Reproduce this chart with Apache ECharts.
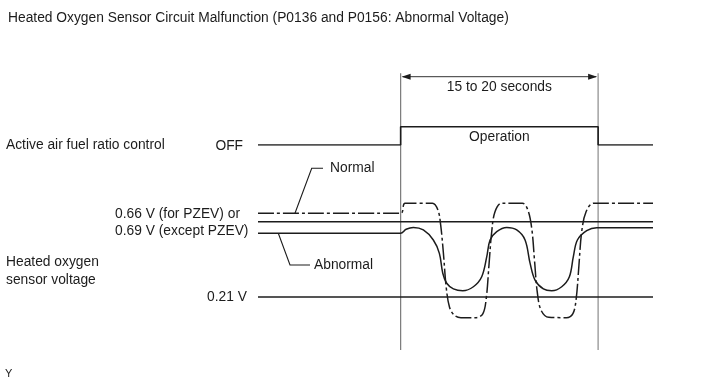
<!DOCTYPE html>
<html><head><meta charset="utf-8">
<script src="https://cdn.jsdelivr.net/npm/echarts@6/dist/echarts.min.js"></script>
<style>html,body{margin:0;padding:0;background:#fff}#c{width:713px;height:381px}</style>
</head><body><div id="c"></div>
<script>
// ---- data (time in seconds, voltage in volts; schematic) ----
const titleText = 'Heated Oxygen Sensor Circuit Malfunction (P0136 and P0156: Abnormal Voltage)';
const timeRange = [-13, 23];
const operationWindow = [0, 18];
const durationLabel = '15 to 20 seconds';
const controlSignal = [[-13, 0], [0, 0], [0, 1], [18, 1], [18, 0], [23, 0]];
const thresholdVolt = 0.66;
const lowVolt = 0.21;
const thresholdLine = [[-13, 0.66], [23, 0.66]];
const lowLine = [[-13, 0.21], [23, 0.21]];
const normalSignal = [
  [-13, 0.711], [0, 0.711], [0.4, 0.771], [2.9, 0.771], [3.4, 0.73], [3.65, 0.64], [3.9, 0.47], [4.15, 0.27],
  [4.45, 0.15], [4.9, 0.1], [5.5, 0.086], [6.9, 0.086], [7.5, 0.11], [7.8, 0.2], [8.05, 0.4], [8.3, 0.6],
  [8.6, 0.72], [9.2, 0.771], [11.1, 0.771], [11.6, 0.73], [11.95, 0.62], [12.2, 0.43], [12.45, 0.24],
  [12.8, 0.13], [13.5, 0.088], [15.1, 0.086], [15.7, 0.11], [16.0, 0.2], [16.25, 0.4], [16.5, 0.6],
  [16.9, 0.72], [17.6, 0.771], [23, 0.771]
];
const abnormalSignal = [
  [-13, 0.591], [0, 0.591], [0.5, 0.615], [1.16, 0.626], [2.07, 0.611], [2.98, 0.551], [3.53, 0.471],
  [3.84, 0.352], [4.2, 0.292], [4.81, 0.258], [5.66, 0.247], [6.63, 0.271], [7.39, 0.331], [7.85, 0.451],
  [8.15, 0.551], [8.76, 0.601], [9.67, 0.626], [10.58, 0.611], [11.34, 0.551], [11.8, 0.411],
  [12.25, 0.311], [13.01, 0.258], [13.77, 0.247], [14.68, 0.271], [15.38, 0.331], [15.74, 0.451],
  [16.11, 0.551], [16.96, 0.607], [17.87, 0.625], [23, 0.625]
];
const controlLabel = 'Active air fuel ratio control';
const offLabel = 'OFF';
const operationLabel = 'Operation';
const sensorLabel = ['Heated oxygen', 'sensor voltage'];
const thresholdLabels = ['0.66 V (for PZEV) or', '0.69 V (except PZEV)'];
const lowLabel = '0.21 V';
const normalLabel = 'Normal';
const abnormalLabel = 'Abnormal';

const FONT = '"Liberation Sans", Arial, sans-serif';
const INK = '#1c1c1c';
const chart = echarts.init(document.getElementById('c'), null, {renderer: 'canvas'});

const lineBase = {type: 'line', symbol: 'none', silent: true, animation: false};
chart.setOption({
  backgroundColor: '#fff',
  animation: false,
  grid: [
    {left: 258, right: 60, top: 126.7, bottom: 236},
    {left: 258, right: 60, top: 165, bottom: 49}
  ],
  xAxis: [
    {type: 'value', gridIndex: 0, min: timeRange[0], max: timeRange[1], show: false},
    {type: 'value', gridIndex: 1, min: timeRange[0], max: timeRange[1], show: false}
  ],
  yAxis: [
    {type: 'value', gridIndex: 0, min: 0, max: 1, show: false},
    {type: 'value', gridIndex: 1, min: 0, max: 1, show: false}
  ],
  series: [
    Object.assign({}, lineBase, {xAxisIndex: 0, yAxisIndex: 0, data: controlSignal,
      lineStyle: {color: INK, width: 1.6}}),
    Object.assign({}, lineBase, {xAxisIndex: 1, yAxisIndex: 1, data: thresholdLine,
      lineStyle: {color: INK, width: 1.5}}),
    Object.assign({}, lineBase, {xAxisIndex: 1, yAxisIndex: 1, data: lowLine,
      lineStyle: {color: INK, width: 1.5}}),
    Object.assign({}, lineBase, {xAxisIndex: 1, yAxisIndex: 1, data: abnormalSignal, smooth: 0.35,
      lineStyle: {color: INK, width: 1.5}}),
    Object.assign({}, lineBase, {xAxisIndex: 1, yAxisIndex: 1, data: normalSignal, smooth: 0.35,
      lineStyle: {color: INK, width: 1.5, type: [16, 3, 3, 3]}})
  ]
});

const px = (t) => chart.convertToPixel({xAxisIndex: 1}, t);
const pyV = (v) => chart.convertToPixel({yAxisIndex: 1}, v);
const pyC = (v) => chart.convertToPixel({yAxisIndex: 0}, v);
const xs = px(operationWindow[0]), xe = px(operationWindow[1]);
const xMid = (xs + xe) / 2;
const arrowY = 76.7;
const txt = (x, y, text, align, extra) => Object.assign({
  type: 'text', x: x, y: y, silent: true,
  style: Object.assign({text: text, fill: INK, font: '13.8px ' + FONT, align: align || 'left', verticalAlign: 'middle'}, extra || {})
});
const seg = (pts, stroke, w) => ({type: 'polyline', silent: true, shape: {points: pts},
  style: {stroke: stroke || INK, lineWidth: w || 1.2, fill: null}});

const yNormStart = pyV(normalSignal[0][1]);
const yAbnStart = pyV(abnormalSignal[0][1]);
const gfx = [
  txt(8, 18, titleText, 'left'),
  seg([[xs, 73.3], [xs, 350]], '#7a7a7a', 1.2),
  seg([[xe, 73.3], [xe, 350]], '#a8a8a8', 1.6),
  seg([[xs + 2, arrowY], [xe - 2, arrowY]], '#333', 1),
  {type: 'polygon', silent: true, shape: {points: [[xs + 1, arrowY], [xs + 10, arrowY - 3], [xs + 10, arrowY + 3]]}, style: {fill: INK}},
  {type: 'polygon', silent: true, shape: {points: [[xe - 1, arrowY], [xe - 10, arrowY - 3], [xe - 10, arrowY + 3]]}, style: {fill: INK}},
  txt(xMid, 87, durationLabel, 'center'),
  txt(xMid, 137, operationLabel, 'center'),
  txt(6, 145, controlLabel, 'left'),
  txt(243, pyC(0) + 1.5, offLabel, 'right'),
  txt(115, 214.5, thresholdLabels[0], 'left'),
  txt(115, 231.5, thresholdLabels[1], 'left'),
  txt(6, 262, sensorLabel[0], 'left'),
  txt(6, 280, sensorLabel[1], 'left'),
  txt(247, pyV(lowVolt), lowLabel, 'right'),
  seg([[px(-9.63), yNormStart], [311.7, 168.3], [323, 168.3]], INK, 1.1),
  txt(330, 168, normalLabel, 'left'),
  seg([[px(-11.15), yAbnStart], [290, 265], [310, 265]], INK, 1.1),
  txt(314, 265, abnormalLabel, 'left'),
  txt(5, 374, 'Y', 'left', {font: '11px ' + FONT})
];
chart.setOption({graphic: gfx});
</script></body></html>
